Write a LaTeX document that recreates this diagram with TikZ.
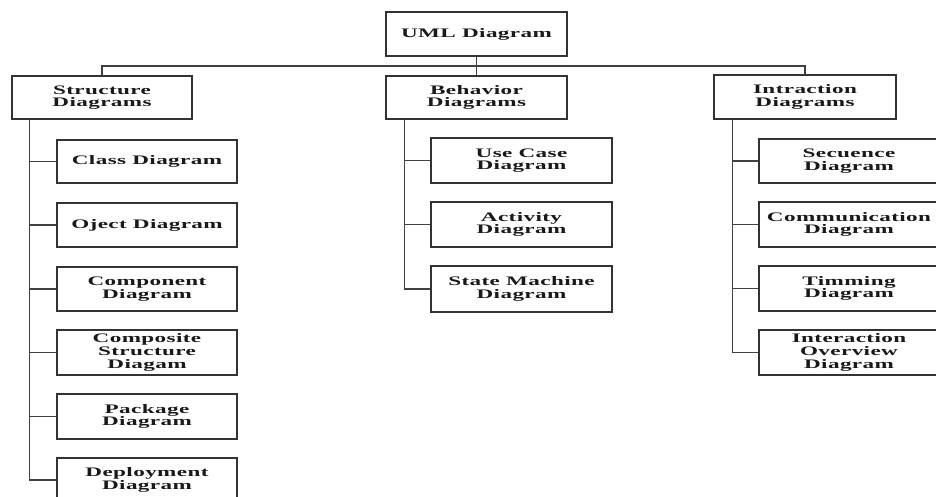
\documentclass[tikz,border=0pt]{standalone}
\usepackage{fontspec}
\setmainfont[FakeStretch=1.78,LetterSpace=3]{Liberation Serif}
\begin{document}
\begin{tikzpicture}[x=1pt,y=-1pt,
  box/.style={draw=black!80, line width=1.4pt, fill=white, minimum width=180pt, minimum height=44pt,
    inner sep=0pt, align=center, text=black!90, font=\fontsize{13}{12.6}\selectfont\bfseries},
  conn/.style={draw=black!75, line width=1.2pt}]
\useasboundingbox (0,0) rectangle (936,497);
% top
\node[box, minimum width=181pt] (uml) at (476.5,34) {UML Diagram};
\coordinate (bus) at (476.5,66);
\node[box, minimum height=43pt] (str) at (102,97.5) {Structure\\Diagrams};
\node[box, minimum width=181pt, minimum height=43pt] (beh) at (476.5,97.5) {Behavior\\Diagrams};
\node[box, minimum width=182pt] (intr) at (805,97) {Intraction\\Diagrams};
% structure children
\node[box, minimum height=43pt] (class) at (147,161.5) {Class Diagram};
\node[box] (oject) at (147,225) {Oject Diagram};
\node[box] (comp) at (147,289) {Component\\Diagram};
\node[box, minimum height=45pt] (csd) at (147,352.5) {Composite\\Structure\\Diagam};
\node[box, minimum height=45pt] (pack) at (147,416.5) {Package\\Diagram};
\node[box] (depl) at (147,480) {Deployment\\Diagram};
% behavior children
\node[box, minimum width=181pt, minimum height=45pt] (uc) at (521.5,160.5) {Use Case\\Diagram};
\node[box, minimum width=181pt, minimum height=45pt] (act) at (521.5,224.5) {Activity\\Diagram};
\node[box, minimum width=181pt, minimum height=46pt] (sm) at (521.5,289) {State Machine\\Diagram};
% interaction children
\node[box] (seq) at (849,161) {Secuence\\Diagram};
\node[box, minimum height=45pt] (comm) at (849,224.5) {Communication\\Diagram};
\node[box, minimum height=45pt] (tim) at (849,288.5) {Timming\\Diagram};
\node[box, minimum height=45pt] (io) at (849,352.5) {Interaction\\Overview\\Diagram};
% bus
\draw[conn] (uml.south) -- (bus) -- (beh.north);
\draw[conn] (str.north) |- (bus) -| (intr.north);
% trunks
\coordinate (st) at ([xshift=18pt]str.south west);
\coordinate (bt) at ([xshift=19pt]beh.south west);
\coordinate (it) at ([xshift=19pt]intr.south west);
\draw[conn] (st) |- (depl.west);
\foreach \n in {class,oject,comp,csd,pack} \draw[conn] (\n.west) -- (\n.west -| st);
\draw[conn] (bt) |- (sm.west);
\foreach \n in {uc,act} \draw[conn] (\n.west) -- (\n.west -| bt);
\draw[conn] (it) |- (io.west);
\foreach \n in {seq,comm,tim} \draw[conn] (\n.west) -- (\n.west -| it);
\end{tikzpicture}
\end{document}
